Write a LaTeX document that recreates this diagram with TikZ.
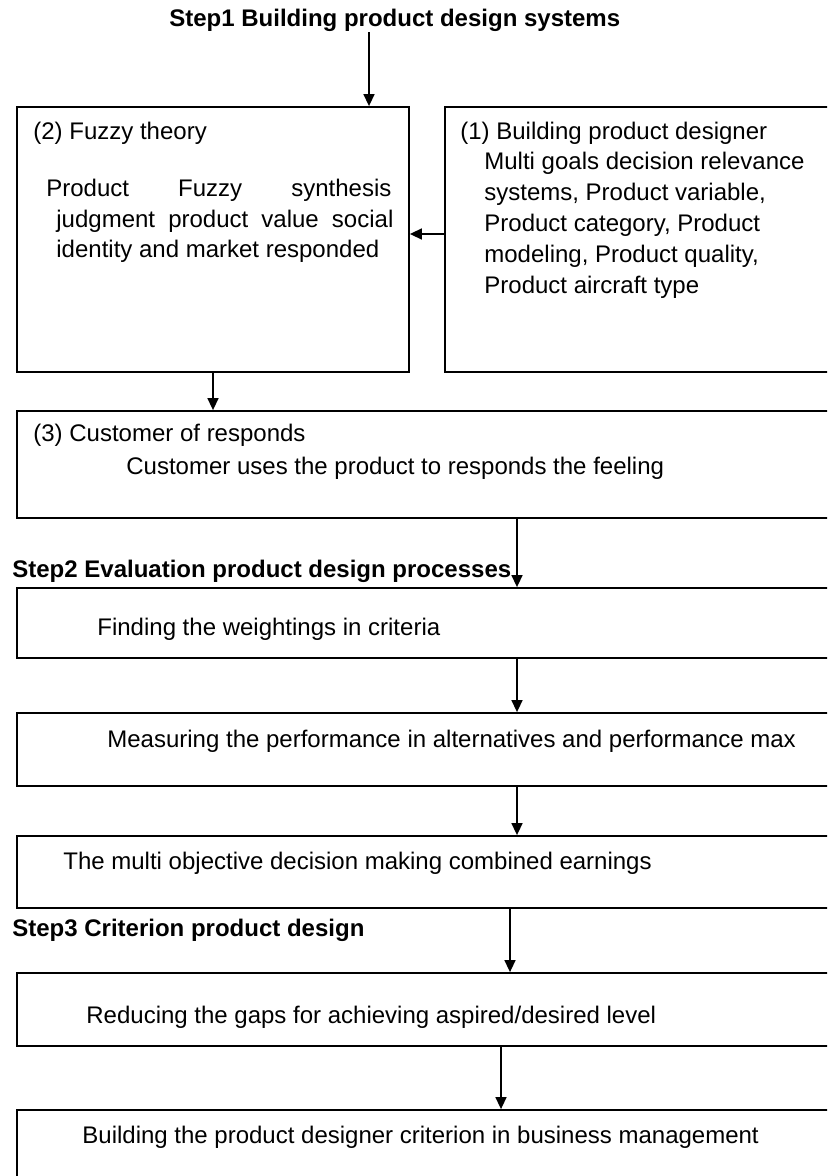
\documentclass[tikz,border=0pt]{standalone}
\usepackage{fontspec}
\setmainfont{Liberation Sans}
\usetikzlibrary{arrows.meta}

\begin{document}
\begin{tikzpicture}[x=0.5pt, y=-0.5pt, font=\fontsize{12}{15.4}\selectfont]

% Fix the page size, the boxes run over the right edge
\useasboundingbox (0,0) rectangle (827,1176);
\clip (0,0) rectangle (827,1176);

% Define styles for boxes, texts and arrows
\tikzstyle{box} = [draw, line width=0.9pt, inner sep=0pt]
\tikzstyle{txt} = [anchor=base west, inner sep=0pt, align=left]
\tikzstyle{head} = [txt, font=\fontsize{12}{15.4}\selectfont\bfseries]
\tikzstyle{flecha} = [-{Triangle[length=6pt, width=5.5pt]}, line width=0.75pt]

% Step 1
\node[head] (step1) at (169,27) {Step1 Building product design systems};

\node[box, minimum width=196pt, minimum height=132.5pt] (fuzzy) at (213,239.5) {};
\node[txt] (fuzzytitle) at (33,140) {(2) Fuzzy theory};
% multi line texts sit on their last line
\node[txt] (fuzzytext) at (46,258) {\makebox[172.5pt][s]{Product Fuzzy synthesis}\\
    \hspace*{5pt}\makebox[168.5pt][s]{judgment product value social}\\
    \hspace*{5pt}identity and market responded};

\node[box, minimum width=197.5pt, minimum height=132.5pt] (designer) at (642.5,239.5) {};
\node[txt] (designertext) at (460,293) {(1) Building product designer\\
    \hspace*{12pt}Multi goals decision relevance\\
    \hspace*{12pt}systems, Product variable,\\
    \hspace*{12pt}Product category, Product\\
    \hspace*{12pt}modeling, Product quality,\\
    \hspace*{12pt}Product aircraft type};

\node[box, minimum width=411.5pt, minimum height=53.5pt] (customer) at (428.5,464.5) {};
\node[txt] (customertitle) at (33,441.7) {(3) Customer of responds};
\node[txt] (customertext) at (126,474) {Customer uses the product to responds the feeling};

% Step 2
\node[head] (step2) at (12,577) {Step2 Evaluation product design processes};

\node[box, minimum width=411.5pt, minimum height=35pt] (weights) at (428.5,623) {};
\node[txt] (weightstext) at (97,635) {Finding the weightings in criteria};

\node[box, minimum width=411.5pt, minimum height=36.5pt] (performance) at (428.5,749.5) {};
\node[txt] (performancetext) at (107,747) {Measuring the performance in alternatives and performance max};

\node[box, minimum width=411.5pt, minimum height=36pt] (earnings) at (428.5,872) {};
\node[txt] (earningstext) at (63,869) {The multi objective decision making combined earnings};

% Step 3
\node[head] (step3) at (12,936) {Step3 Criterion product design};

\node[box, minimum width=411.5pt, minimum height=36.5pt] (gaps) at (428.5,1009.5) {};
\node[txt] (gapstext) at (86,1023) {Reducing the gaps for achieving aspired/desired level};

\node[box, minimum width=411.5pt, minimum height=40pt] (criterion) at (428.5,1150) {};
\node[txt] (criteriontext) at (82,1143) {Building the product designer criterion in business management};

% Arrows
\coordinate (c1) at (369,0);
\coordinate (c2) at (517,0);
\coordinate (c3) at (510,0);
\coordinate (c4) at (501,0);

\draw[flecha] (step1.south -| c1) -- (fuzzy.north -| c1);
\draw[flecha] ([yshift=2.75pt]designer.west) -- ([yshift=2.75pt]fuzzy.east);
\draw[flecha] (fuzzy.south) -- (customer.north -| fuzzy.south);
\draw[flecha] (customer.south -| c2) -- (weights.north -| c2);
\draw[flecha] (weights.south -| c2) -- (performance.north -| c2);
\draw[flecha] (performance.south -| c2) -- (earnings.north -| c2);
\draw[flecha] (earnings.south -| c3) -- (gaps.north -| c3);
\draw[flecha] (gaps.south -| c4) -- (criterion.north -| c4);

\end{tikzpicture}
\end{document}
